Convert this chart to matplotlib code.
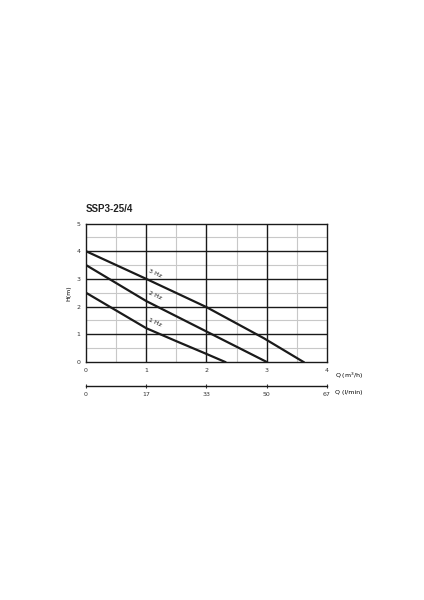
import matplotlib.pyplot as plt

# Data (flow Q in m3/h, head H in m)
q_3hz = [0.0, 1.0, 2.0, 2.95, 3.61]
h_3hz = [4.0, 3.0, 1.98, 0.86, 0.0]
q_2hz = [0.0, 1.0, 2.0, 3.0]
h_2hz = [3.5, 2.2, 1.1, 0.0]
q_1hz = [0.0, 1.0, 1.5, 2.0, 2.31]
h_1hz = [2.5, 1.22, 0.75, 0.29, 0.0]
curve_labels = ["3 Hz", "2 Hz", "1 Hz"]

q_ticks = [0, 1, 2, 3, 4]
lmin_labels = ["0", "17", "33", "50", "67"]
h_ticks = [0, 1, 2, 3, 4, 5]

fig = plt.figure(figsize=(4.24, 6), dpi=100)
ax = fig.add_axes([0.2028, 0.3967, 0.5684, 0.2308])

# grid: light lines every 0.5, dark lines on integers
for v in [0.5, 1.5, 2.5, 3.5]:
    ax.axvline(v, color="#c8c8c8", lw=0.8, zorder=1)
for v in [0.5, 1.5, 2.5, 3.5, 4.5]:
    ax.axhline(v, color="#c8c8c8", lw=0.8, zorder=1)
for v in [1, 2, 3]:
    ax.axvline(v, color="#1a1a1a", lw=1.0, zorder=2)
for v in [1, 2, 3, 4]:
    ax.axhline(v, color="#1a1a1a", lw=1.0, zorder=2)

curves = [(q_3hz, h_3hz), (q_2hz, h_2hz), (q_1hz, h_1hz)]
for q, h in curves:
    ax.plot(q, h, color="#1a1a1a", lw=1.6, zorder=3)

# curve labels sitting just above each curve
for (q, h), lab in zip(curves, curve_labels):
    ax.text(q[1] + 0.03, h[1] + 0.02, lab, fontsize=4.5, rotation=-24,
            ha="left", va="bottom", color="#1a1a1a", zorder=4)

ax.set_xlim(0, 4)
ax.set_ylim(0, 5)
ax.set_xticks(q_ticks)
ax.set_yticks(h_ticks)
ax.tick_params(labelsize=4.5, length=0, pad=4, colors="#333333")
for s in ax.spines.values():
    s.set_color("#1a1a1a")
    s.set_linewidth(1.0)
ax.set_ylabel("H(m)", fontsize=4.5, labelpad=4)

fig.text(0.2028, 0.644, "SSP3-25/4", fontsize=7, fontweight="bold",
         family="Liberation Sans", ha="left", va="bottom", color="#222222")
fig.text(0.790, 0.373, "Q (m$^3$/h)", fontsize=4.5, ha="left", va="center")

# secondary flow axis in l/min
ax2 = fig.add_axes([0.2028, 0.3567, 0.5684, 0.001])
ax2.set_xlim(0, 4)
ax2.set_ylim(0, 1)
ax2.set_xticks(q_ticks)
ax2.set_xticklabels(lmin_labels)
ax2.set_yticks([])
for side in ["top", "left", "right"]:
    ax2.spines[side].set_visible(False)
ax2.spines["bottom"].set_linewidth(1.0)
ax2.spines["bottom"].set_color("#1a1a1a")
ax2.tick_params(axis="x", direction="inout", length=3, width=0.8,
                labelsize=4.5, pad=3, colors="#333333")
fig.text(0.790, 0.346, "Q (l/min)", fontsize=4.5, ha="left", va="center")

fig.savefig("out.png", dpi=100)
